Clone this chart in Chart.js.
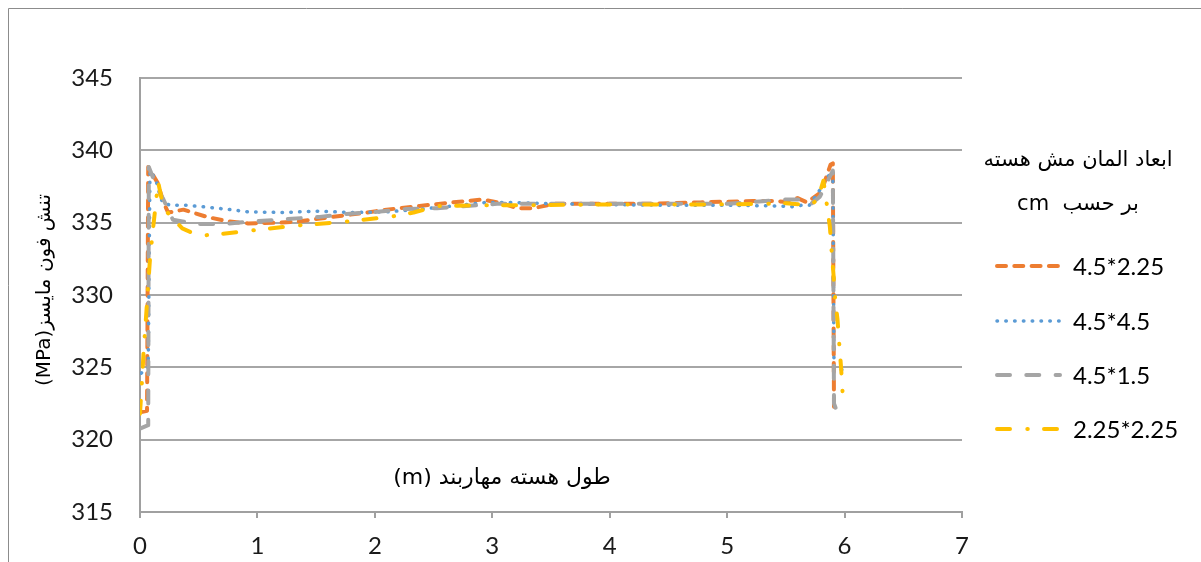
<!DOCTYPE html>
<html lang="fa">
<head>
<meta charset="utf-8">
<title>تنش فون مایسز در طول هسته مهاربند</title>
<script src="https://cdn.jsdelivr.net/npm/chart.js@4.4.1/dist/chart.umd.min.js"></script>
<style>
  html, body { margin: 0; padding: 0; background: #fff; }
  #wrap { position: relative; width: 1201px; height: 562px; }
</style>
</head>
<body>
<div id="wrap"><canvas id="c" width="1201" height="562"></canvas></div>
<script>
// Mesh sizes (cm) of the core elements
const seriesLabels = ['4.5*2.25', '4.5*4.5', '4.5*1.5', '2.25*2.25'];

// Position along the brace core (m) and von Mises stress (MPa) per mesh size
const mesh45x225X = [0.01, 0.06, 0.07, 0.11, 0.15, 0.20, 0.24, 0.37, 0.57, 0.74, 0.92, 1.20, 1.36, 1.64, 1.93, 2.10, 2.38, 2.66, 2.92, 3.10, 3.21, 3.35, 3.52, 3.92, 4.34, 4.77, 5.22, 5.39, 5.48, 5.60, 5.68, 5.79, 5.83, 5.88, 5.90, 5.91, 5.94];
const mesh45x225Y = [321.9, 322.0, 338.85, 338.3, 337.75, 336.4, 335.7, 335.9, 335.4, 335.1, 334.95, 335.0, 335.1, 335.4, 335.7, 335.9, 336.15, 336.4, 336.6, 336.3, 336.0, 336.0, 336.3, 336.3, 336.3, 336.4, 336.5, 336.5, 336.45, 336.7, 336.4, 337.05, 337.8, 339.0, 339.1, 322.2, 322.0];

const mesh45x45X = [0.01, 0.07, 0.085, 0.11, 0.145, 0.19, 0.26, 0.40, 0.54, 0.77, 0.92, 1.22, 1.50, 1.81, 2.11, 2.41, 2.66, 2.95, 3.15, 3.35, 3.60, 4.00, 4.50, 5.00, 5.45, 5.55, 5.63, 5.70, 5.81, 5.85, 5.90, 5.91, 5.99];
const mesh45x45Y = [324.6, 325.0, 338.6, 338.3, 337.7, 336.4, 336.2, 336.2, 336.1, 335.9, 335.75, 335.7, 335.8, 335.7, 335.75, 335.95, 336.15, 336.4, 336.4, 336.35, 336.3, 336.25, 336.2, 336.2, 336.15, 336.1, 336.2, 336.2, 337.5, 338.1, 338.6, 325.0, 324.8];

const mesh45x15X = [0.01, 0.07, 0.075, 0.145, 0.20, 0.28, 0.48, 0.71, 0.91, 1.25, 1.53, 1.76, 2.02, 2.27, 2.53, 2.78, 3.04, 3.24, 3.60, 4.00, 4.50, 5.00, 5.48, 5.62, 5.70, 5.79, 5.90, 5.91, 5.95, 5.99];
const mesh45x15Y = [320.8, 321.0, 338.85, 337.4, 336.6, 335.2, 334.9, 334.9, 335.05, 335.25, 335.4, 335.6, 335.75, 335.95, 336.0, 336.15, 336.3, 336.3, 336.3, 336.3, 336.3, 336.3, 336.6, 336.6, 336.2, 336.8, 338.6, 322.5, 321.6, 321.6];

const mesh225x225X = [0.0, 0.02, 0.03, 0.06, 0.085, 0.11, 0.13, 0.155, 0.20, 0.36, 0.50, 0.68, 0.94, 1.33, 1.73, 2.13, 2.33, 2.53, 2.90, 3.30, 3.80, 4.30, 4.80, 5.30, 5.50, 5.71, 5.77, 5.82, 5.85, 5.875, 5.89, 5.905, 5.92, 5.94, 5.955, 5.97, 5.985];
const mesh225x225Y = [321.8, 324.5, 326.0, 329.5, 332.5, 334.5, 336.0, 337.8, 336.0, 334.6, 334.1, 334.2, 334.45, 334.8, 335.05, 335.4, 335.7, 336.15, 336.2, 336.2, 336.25, 336.25, 336.25, 336.3, 336.35, 336.2, 336.6, 337.9, 336.2, 334.7, 333.0, 331.5, 329.7, 328.3, 326.6, 325.0, 323.0];

// Axis ranges and tick steps
const xTicks = { min: 0, max: 7, step: 1 };
const yTicks = { min: 315, max: 345, step: 5 };

const yTitle = 'تنش فون مایسز(MPa)';
const xTitle = 'طول هسته مهاربند (m)';
const legendTitle = ['ابعاد المان مش هسته', 'بر حسب  cm'];

const FONT = "Lato, 'DejaVu Sans', sans-serif";
const ARABIC_FONT = "'DejaVu Sans', sans-serif";

const styles = [
  { color: '#ED7D31', width: 4,   dash: [9, 8.3] },
  { color: '#5B9BD5', width: 3.5, dash: [0.5, 8.3] },
  { color: '#A5A5A5', width: 4,   dash: [13, 16.3] },
  { color: '#FFC000', width: 4,   dash: [13, 17.3, 0.5, 16.2] }
];

function pairs(xs, ys) { return xs.map((x, i) => ({ x: x, y: ys[i] })); }

const seriesData = [
  pairs(mesh45x225X, mesh45x225Y),
  pairs(mesh45x45X, mesh45x45Y),
  pairs(mesh45x15X, mesh45x15Y),
  pairs(mesh225x225X, mesh225x225Y)
];

const datasets = seriesData.map((d, i) => ({
  label: seriesLabels[i],
  data: d,
  showLine: true,
  borderColor: styles[i].color,
  backgroundColor: styles[i].color,
  borderWidth: styles[i].width,
  borderDash: styles[i].dash,
  borderCapStyle: 'round',
  borderJoinStyle: 'round',
  pointRadius: 0,
  pointHoverRadius: 0,
  tension: 0,
  order: 4 - i
}));

// Frame, axis titles and the legend block on the right
const decorations = {
  id: 'decorations',
  beforeDraw(chart) {
    const ctx = chart.ctx;
    ctx.save();
    ctx.fillStyle = '#fff';
    ctx.fillRect(0, 0, chart.width, chart.height);
    ctx.strokeStyle = '#8c8c8c';
    ctx.lineWidth = 1;
    ctx.beginPath();
    ctx.moveTo(8.5, chart.height);
    ctx.lineTo(8.5, 8.5);
    ctx.lineTo(chart.width, 8.5);
    ctx.stroke();
    ctx.restore();
  },
  afterDraw(chart) {
    const ctx = chart.ctx;
    const area = chart.chartArea;
    ctx.save();
    ctx.fillStyle = '#000';
    ctx.direction = 'rtl';
    ctx.textBaseline = 'middle';
    ctx.textAlign = 'center';

    // y-axis title, rotated
    ctx.save();
    ctx.translate(45, 290);
    ctx.rotate(-Math.PI / 2);
    ctx.font = '20px ' + ARABIC_FONT;
    ctx.fillText(yTitle, 0, 0);
    ctx.restore();

    // x-axis title inside the plot area
    ctx.font = '22px ' + ARABIC_FONT;
    ctx.fillText(xTitle, 502, area.bottom - 34);

    // legend title
    const lx = 1078;
    ctx.font = '21px ' + ARABIC_FONT;
    ctx.fillText(legendTitle[0], lx, 161);
    ctx.fillText(legendTitle[1], lx, 205);

    // legend entries
    ctx.direction = 'ltr';
    ctx.textAlign = 'left';
    ctx.font = '24px ' + FONT;
    const rowY = [266, 321, 375, 429];
    const x0 = area.right + 35;
    const x1 = area.right + 98;
    seriesLabels.forEach((lab, i) => {
      const s = styles[i];
      ctx.save();
      ctx.strokeStyle = s.color;
      ctx.lineWidth = s.width;
      ctx.lineCap = 'round';
      ctx.setLineDash(s.dash);
      ctx.beginPath();
      ctx.moveTo(x0, rowY[i]);
      ctx.lineTo(x1, rowY[i]);
      ctx.stroke();
      ctx.restore();
      ctx.fillStyle = '#000';
      ctx.fillText(lab, area.right + 111, rowY[i] + 1);
    });
    ctx.restore();
  }
};

new Chart(document.getElementById('c'), {
  type: 'scatter',
  data: { datasets: datasets },
  options: {
    responsive: false,
    animation: false,
    events: [],
    layout: { padding: { left: 0, top: 78, right: 239, bottom: 0 } },
    plugins: {
      legend: { display: false },
      tooltip: { enabled: false },
      title: { display: false }
    },
    scales: {
      x: {
        type: 'linear',
        min: xTicks.min,
        max: xTicks.max,
        afterFit(scale) { scale.height = 50; },
        ticks: {
          stepSize: xTicks.step,
          padding: 14,
          color: '#1a1a1a',
          font: { family: FONT, size: 24 },
          maxRotation: 0
        },
        grid: {
          drawOnChartArea: false,
          drawTicks: true,
          tickLength: 6,
          color: '#a0a0a0',
          lineWidth: 2
        },
        border: { display: true, color: '#a0a0a0', width: 2 }
      },
      y: {
        type: 'linear',
        min: yTicks.min,
        max: yTicks.max,
        afterFit(scale) { scale.width = 140; },
        ticks: {
          stepSize: yTicks.step,
          padding: 27,
          color: '#1a1a1a',
          font: { family: FONT, size: 24 }
        },
        grid: {
          drawTicks: false,
          color: '#a6a6a6',
          lineWidth: 2
        },
        border: { display: true, color: '#a0a0a0', width: 2 }
      }
    }
  },
  plugins: [decorations]
});
</script>
</body>
</html>
